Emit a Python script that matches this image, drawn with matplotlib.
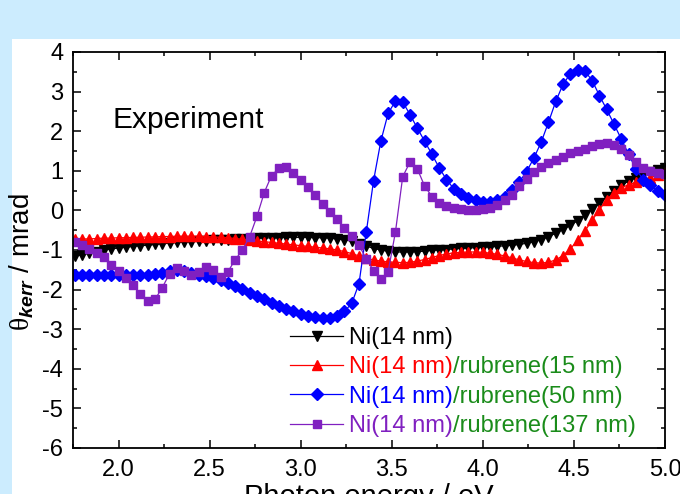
import numpy as np
import matplotlib.pyplot as plt
from matplotlib.patches import Rectangle
from matplotlib.ticker import MultipleLocator

plt.rcParams['font.family'] = ['Liberation Sans', 'DejaVu Sans']
plt.rcParams['axes.unicode_minus'] = False
plt.rcParams['mathtext.fontset'] = 'custom'
plt.rcParams['mathtext.rm'] = 'Liberation Serif'
plt.rcParams['mathtext.bf'] = 'Liberation Sans:italic:bold'

# photon energy grid (eV)
energy = [1.76, 1.80, 1.84, 1.88, 1.92, 1.96, 2.00, 2.04, 2.08, 2.12,
          2.16, 2.20, 2.24, 2.28, 2.32, 2.36, 2.40, 2.44, 2.48, 2.52,
          2.56, 2.60, 2.64, 2.68, 2.72, 2.76, 2.80, 2.84, 2.88, 2.92,
          2.96, 3.00, 3.04, 3.08, 3.12, 3.16, 3.20, 3.24, 3.28, 3.32,
          3.36, 3.40, 3.44, 3.48, 3.52, 3.56, 3.60, 3.64, 3.68, 3.72,
          3.76, 3.80, 3.84, 3.88, 3.92, 3.96, 4.00, 4.04, 4.08, 4.12,
          4.16, 4.20, 4.24, 4.28, 4.32, 4.36, 4.40, 4.44, 4.48, 4.52,
          4.56, 4.60, 4.64, 4.68, 4.72, 4.76, 4.80, 4.84, 4.88, 4.92,
          4.96, 5.00]

# Kerr rotation (mrad)
ni = [-1.15, -1.12, -1.08, -1.04, -1.00, -0.97, -0.95, -0.93, -0.91, -0.89,
      -0.88, -0.86, -0.84, -0.83, -0.81, -0.80, -0.79, -0.78, -0.77, -0.76,
      -0.75, -0.74, -0.73, -0.72, -0.71, -0.70, -0.70, -0.69, -0.69, -0.68,
      -0.68, -0.68, -0.68, -0.69, -0.69, -0.70, -0.72, -0.74, -0.78, -0.84,
      -0.90, -0.96, -1.00, -1.03, -1.05, -1.05, -1.05, -1.04, -1.03, -1.01,
      -1.00, -0.99, -0.97, -0.96, -0.95, -0.94, -0.93, -0.92, -0.91, -0.89,
      -0.88, -0.86, -0.83, -0.79, -0.74, -0.66, -0.58, -0.48, -0.38, -0.26,
      -0.12, 0.03, 0.18, 0.34, 0.50, 0.63, 0.74, 0.83, 0.90, 0.96,
      1.02, 1.07]

rub15 = [-0.73, -0.72, -0.72, -0.71, -0.70, -0.70, -0.69, -0.69, -0.68, -0.68,
         -0.67, -0.67, -0.66, -0.66, -0.65, -0.65, -0.65, -0.65, -0.66, -0.67,
         -0.68, -0.69, -0.71, -0.73, -0.75, -0.77, -0.79, -0.81, -0.83, -0.85,
         -0.87, -0.89, -0.91, -0.93, -0.95, -0.97, -1.00, -1.04, -1.09, -1.15,
         -1.21, -1.25, -1.28, -1.30, -1.31, -1.32, -1.31, -1.28, -1.24, -1.19,
         -1.14, -1.10, -1.07, -1.06, -1.05, -1.05, -1.06, -1.08, -1.11, -1.15,
         -1.20, -1.25, -1.29, -1.32, -1.33, -1.31, -1.25, -1.14, -0.97, -0.76,
         -0.52, -0.25, 0.02, 0.27, 0.45, 0.57, 0.65, 0.71, 0.76, 0.82,
         0.90, 0.97]

rub50 = [-1.63, -1.63, -1.63, -1.63, -1.63, -1.63, -1.63, -1.63, -1.63, -1.63,
         -1.62, -1.60, -1.57, -1.53, -1.51, -1.53, -1.58, -1.62, -1.66, -1.71,
         -1.77, -1.84, -1.91, -1.99, -2.08, -2.17, -2.25, -2.33, -2.41, -2.48,
         -2.55, -2.61, -2.66, -2.70, -2.72, -2.72, -2.66, -2.55, -2.35, -1.85,
         -0.55, 0.75, 1.75, 2.45, 2.76, 2.74, 2.42, 2.08, 1.75, 1.42,
         1.08, 0.78, 0.55, 0.41, 0.31, 0.25, 0.22, 0.21, 0.25, 0.35,
         0.52, 0.72, 0.98, 1.32, 1.72, 2.22, 2.75, 3.18, 3.45, 3.55,
         3.52, 3.28, 2.90, 2.55, 2.18, 1.80, 1.42, 1.05, 0.78, 0.63,
         0.50, 0.40]

rub137 = [-0.80, -0.88, -0.98, -1.08, -1.18, -1.38, -1.52, -1.70, -1.88, -2.12,
          -2.28, -2.25, -1.95, -1.60, -1.45, -1.54, -1.64, -1.55, -1.43, -1.50,
          -1.68, -1.55, -1.25, -1.00, -0.66, -0.15, 0.45, 0.88, 1.06, 1.10,
          0.95, 0.76, 0.60, 0.40, 0.15, -0.05, -0.22, -0.45, -0.65, -0.88,
          -1.22, -1.52, -1.74, -1.55, -0.55, 0.85, 1.22, 1.05, 0.62, 0.35,
          0.18, 0.10, 0.05, 0.03, 0.01, 0.01, 0.03, 0.07, 0.14, 0.25,
          0.40, 0.62, 0.80, 0.97, 1.10, 1.20, 1.28, 1.36, 1.44, 1.50,
          1.56, 1.62, 1.67, 1.70, 1.66, 1.56, 1.40, 1.22, 1.08, 0.99,
          0.95, 0.93]

series = [ni, rub15, rub50, rub137]
colors = ['black', '#ff0000', '#0000ff', '#8020c0']
markers = ['v', '^', 'D', 's']
msizes = [6.8, 6.8, 6.3, 5.8]
labels = ['Ni(14 nm)', 'Ni(14 nm)', 'Ni(14 nm)', 'Ni(14 nm)']
suffixes = ['', '/rubrene(15 nm)', '/rubrene(50 nm)', '/rubrene(137 nm)']
green = '#1a8c1a'

W, H = 680, 494
fig = plt.figure(figsize=(W / 100, H / 100), dpi=100, facecolor='#ccecfe')
fig.add_artist(Rectangle((12 / W, 0), 1, 1 - 39 / H, transform=fig.transFigure,
                         facecolor='white', edgecolor='none', zorder=0))

ax = fig.add_axes([73 / W, 1 - 448 / H, 592 / W, 396 / H])

for y, c, m, ms, lab in zip(series, colors, markers, msizes, labels):
    ax.plot(energy, y, '-', color=c, marker=m, ms=ms, mec=c, lw=0.9, label=lab)

ax.set_xlim(1.75, 5.0)
ax.set_ylim(-6, 4)
ax.xaxis.set_major_locator(MultipleLocator(0.5))
ax.xaxis.set_minor_locator(MultipleLocator(0.25))
ax.yaxis.set_major_locator(MultipleLocator(1))
ax.yaxis.set_minor_locator(MultipleLocator(0.5))
ax.xaxis.set_major_formatter(plt.FormatStrFormatter('%.1f'))
ax.tick_params(which='both', direction='in', top=True, right=True, width=1.1)
ax.tick_params(which='major', length=6)
ax.tick_params(which='minor', length=3)
ax.tick_params(axis='x', labelsize=17, pad=8)
ax.tick_params(axis='y', labelsize=17, pad=7)
for s in ax.spines.values():
    s.set_linewidth(1.3)

ax.set_xlabel('Photon energy / eV', fontsize=21)
ax.xaxis.set_label_coords(0.5, -0.088)
ax.set_ylabel(r'$\mathrm{\theta}_{\mathbf{kerr}}$ / mrad', fontsize=20)
ax.yaxis.set_label_coords(-0.062, 0.47)

ax.text(0.066, 0.808, 'Experiment', transform=ax.transAxes, fontsize=21.5,
        va='baseline', ha='left')

leg = ax.legend(loc='upper left', bbox_to_anchor=(0.3666, 0.3056), frameon=False,
                fontsize=17, handlelength=2.25, handletextpad=0.25,
                labelspacing=0.31, borderpad=0, borderaxespad=0)
for t, c in zip(leg.get_texts(), colors):
    t.set_color(c)

fig.canvas.draw()
renderer = fig.canvas.get_renderer()
for t, suf in zip(leg.get_texts(), suffixes):
    if suf:
        bb = t.get_window_extent(renderer)
        fig.text(bb.x1 / W, bb.y0 / H, suf, color=green, fontsize=17,
                 ha='left', va='bottom', zorder=10)

fig.savefig('out.png', dpi=100, facecolor=fig.get_facecolor())
